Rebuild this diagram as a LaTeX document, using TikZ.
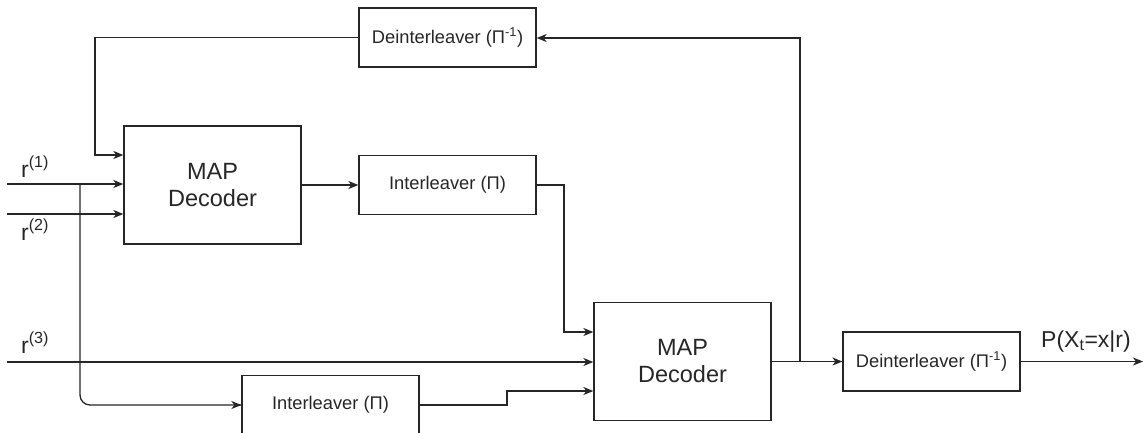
\documentclass[tikz,border=0pt]{standalone}
\usepackage{fontspec}
\setmainfont{Liberation Sans}
\usetikzlibrary{arrows.meta}
\definecolor{ink}{HTML}{262626}
\tikzset{
  block/.style={draw=ink, line width=1.3pt, rectangle, inner sep=0pt,
    minimum width=177pt, font=\fontsize{18.3}{21}\selectfont, text=ink},
  bigblock/.style={block, minimum height=118pt, align=center,
    font=\fontsize{23.5}{27}\selectfont},
  smallblock/.style={block, minimum height=59pt},
  wire/.style={draw=ink, line width=1.3pt},
  flow/.style={wire, -{Stealth[length=10pt, width=8pt, inset=3pt]}},
  lbl/.style={anchor=base west, inner sep=0pt, text=ink,
    font=\fontsize{23}{26}\selectfont}
}
\begin{document}
\begin{tikzpicture}[x=1pt, y=-1pt]
\useasboundingbox (0,0) rectangle (1145,432);

% processing blocks
\node[smallblock] (dint1) at (447.5,37.5) {Deinterleaver (Π\textsuperscript{-1})};
\node[bigblock]   (map1)  at (212.5,185)  {MAP\\Decoder};
\node[smallblock] (int1)  at (447.5,185)  {Interleaver (Π)};
\node[bigblock]   (map2)  at (682.5,361.5) {MAP\\Decoder};
\node[smallblock] (dint2) at (931.5,361.5) {Deinterleaver (Π\textsuperscript{-1})};
\node[smallblock] (int2)  at (330.5,405)  {Interleaver (Π)};

% input and output ends
\coordinate (in1) at (7,184);
\coordinate (in2) at (7,214);
\coordinate (in3) at (7,362);
\coordinate (out) at (1143,361.5);
\coordinate (tap) at (80,184);
\coordinate (fb)  at (800,361.5);

% labels
\node[lbl] (l1) at (21,177) {r\textsuperscript{(1)}};
\node[lbl] (l2) at (21,240) {r\textsuperscript{(2)}};
\node[lbl] (l3) at (21,353) {r\textsuperscript{(3)}};
\node[lbl] (lp) at (1041,347) {P(X\textsubscript{t}=x|r)};

% first decoder inputs
\draw[flow] (in1) -- (in1 -| map1.west);
\draw[flow] (in2) -- (in2 -| map1.west);
\draw[flow] (dint1.west) -| (95,155) -- (map1.west |- 0,155);

% first decoder to interleaver
\draw[flow] (map1.east) -- (int1.west);
\draw[flow] (int1.east) -- (564,185) -- (564,332) -- (map2.west |- 0,332);

% systematic branch to second decoder
\draw[flow] (in3) -- (in3 -| map2.west);
\draw[wire, rounded corners=10pt] (tap) -- (80,405) -- (int2.west);
\draw[flow] (int2.west) ++(-1,0) -- (int2.west);
\draw[flow] (int2.east) -- (507,405) -- (507,391) -- (map2.west |- 0,391);

% second decoder output and feedback
\draw[flow] (map2.east) -- (dint2.west);
\draw[flow] (fb) -- (800,38) -- (dint1.east |- 0,38);
\draw[flow] (dint2.east) -- (out);
\end{tikzpicture}
\end{document}
